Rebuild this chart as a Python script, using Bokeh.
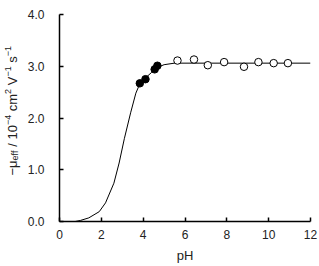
import math
from bokeh.plotting import figure
from bokeh.layouts import row
from bokeh.models import Range1d, FixedTicker, NumeralTickFormatter
from bokeh.core.properties import value
from bokeh.embed import file_html
from bokeh.resources import INLINE

# ---- data ----
fit_ph = [0.75, 1.0, 1.4, 1.9, 2.2, 2.6, 2.85, 3.1, 3.4, 3.65, 3.85, 4.1, 4.4, 4.7, 5.0, 5.5, 12.0]
fit_mu = [0.0, 0.02, 0.07, 0.19, 0.36, 0.74, 1.13, 1.6, 2.1, 2.48, 2.67, 2.77, 2.88, 2.98, 3.03, 3.06, 3.06]

filled_ph = [3.84, 4.11, 4.55, 4.68]
filled_mu = [2.67, 2.75, 2.94, 3.01]

open_ph = [5.64, 6.43, 7.09, 7.87, 8.82, 9.51, 10.24, 10.92]
open_mu = [3.11, 3.13, 3.02, 3.08, 2.99, 3.08, 3.06, 3.06]

x_ticks = [0, 2, 4, 6, 8, 10, 12]
y_ticks = [0, 1, 2, 3, 4]
x_title = "pH"
# y title pieces: (text, kind) kind: n = normal, b = subscript, p = superscript
y_title = [("\u2212\u03bc", "n"), ("eff", "b"), (" / 10", "n"), ("\u22124", "p"),
           (" cm", "n"), ("2", "p"), (" V", "n"), ("\u22121", "p"), (" s", "n"), ("\u22121", "p")]

FONT = "Liberation Sans"
SIDE = 22
L, R, T, B = 59, 9, 14, 45
W, H = 319, 266

yr = Range1d(0, 4)
p = figure(width=W - SIDE, height=H, output_backend="svg", toolbar_location=None,
           x_range=Range1d(0, 12), y_range=yr,
           min_border_left=L - SIDE, min_border_right=R, min_border_top=T, min_border_bottom=B)
p.outline_line_color = None
p.grid.visible = False
p.background_fill_color = "white"
p.border_fill_color = "white"

for ax in (p.xaxis[0], p.yaxis[0]):
    ax.axis_line_color = "black"
    ax.axis_line_width = 1.5
    ax.major_tick_in = 4
    ax.major_tick_out = 0
    ax.major_tick_line_color = "black"
    ax.major_tick_line_width = 1.5
    ax.minor_tick_line_color = None
    ax.major_label_text_font = FONT
    ax.major_label_text_font_size = "12px"
    ax.major_label_text_color = "#222222"

p.xaxis.ticker = FixedTicker(ticks=x_ticks)
p.yaxis.ticker = FixedTicker(ticks=y_ticks)
p.yaxis.formatter = NumeralTickFormatter(format="0.0")
p.xaxis.major_label_standoff = 8
p.yaxis.major_label_standoff = 15
p.xaxis.axis_label = x_title
p.xaxis.axis_label_text_font = FONT
p.xaxis.axis_label_text_font_style = "normal"
p.xaxis.axis_label_text_font_size = "13px"
p.xaxis.axis_label_text_color = "#222222"
p.xaxis.axis_label_standoff = 6

p.line(fit_ph, fit_mu, line_color="black", line_width=1)
p.scatter(open_ph, open_mu, size=7.5, fill_color="white", line_color="black", line_width=1)
p.scatter(filled_ph, filled_mu, size=7.5, fill_color="black", line_color="black")

# side panel holding the rotated y-axis title; shares the vertical range of the plot
s = figure(width=SIDE, height=H, output_backend="svg", toolbar_location=None,
           x_range=Range1d(0, SIDE), y_range=yr,
           x_axis_location=None, y_axis_location=None,
           min_border_left=0, min_border_right=0, min_border_top=T, min_border_bottom=B)
s.grid.visible = False
s.outline_line_color = None
s.border_fill_color = "white"
s.background_fill_color = "white"

AW = {"\u2212": 584, "\u03bc": 576, "e": 556, "f": 278, " ": 278, "/": 278, "1": 556, "0": 556,
      "4": 556, "2": 556, "c": 500, "m": 833, "V": 667, "s": 500}
PXY = 4 / (H - T - B)          # data units per vertical pixel
base_px = 11.5
pos_px = 175.0                 # start (bottom) in canvas px from top
SN, SS = 13.0, 9.0
for txt, kind in y_title:
    size = SN if kind == "n" else SS
    off = 0 if kind == "n" else (-4.5 if kind == "p" else 3.0)
    lead = len(txt) - len(txt.lstrip(" "))
    pos_px -= lead * AW[" "] / 1000 * size
    body = txt.lstrip(" ")
    s.text(x=[base_px + off], y=[(H - B - pos_px) * PXY], text=[body], angle=math.pi / 2,
           text_font=value(FONT), text_font_size=f"{size}px", text_color="#222222",
           text_align="left", text_baseline="alphabetic")
    pos_px -= sum(AW.get(c, 556) for c in body) / 1000 * size

layout = row(s, p, spacing=0)
open("out.html", "w").write(file_html(layout, INLINE))
